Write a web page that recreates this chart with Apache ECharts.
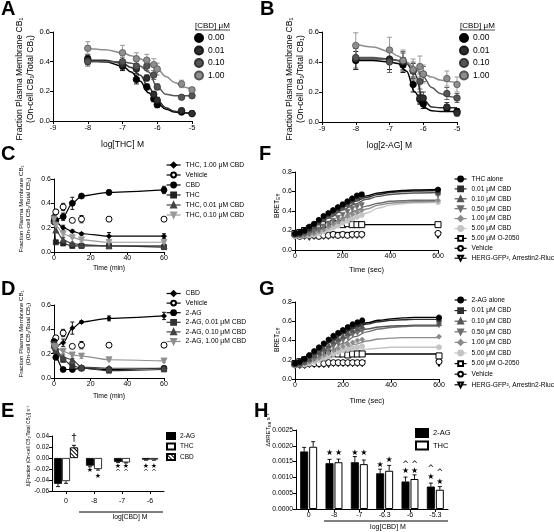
<!DOCTYPE html>
<html><head><meta charset="utf-8">
<script src="https://cdn.jsdelivr.net/npm/echarts@6/dist/echarts.min.js"></script>
<style>html,body{margin:0;padding:0;background:#fff}#c{width:554px;height:532px}</style>
</head><body><div id="c"></div>
<script>
// ================= DATA =================
// Panel A / B : dose-response (x = log concentration)
const doseX = [-8, -7, -6.6, -6.3, -6.1, -6, -5.3, -5];
const fitX = [-8, -7.5, -7, -6.75, -6.5, -6.25, -6, -5.75, -5.5, -5.25, -5];
const cbdLevels = ['0.00', '0.01', '0.10', '1.00'];

const A_cbd000 = [0.42, 0.37, 0.28, 0.23, 0.15, 0.11, 0.06, 0.05];
const A_cbd001 = [0.41, 0.38, 0.35, 0.29, 0.18, 0.14, 0.07, 0.05];
const A_cbd010 = [0.40, 0.40, 0.37, 0.37, 0.31, 0.23, 0.16, 0.17];
const A_cbd100 = [0.49, 0.46, 0.42, 0.41, 0.38, 0.35, 0.25, 0.21];
const A_err000 = [0.03, 0.03, 0.03, 0.02, 0.02, 0.02, 0.01, 0.01];
const A_err001 = [0.03, 0.03, 0.03, 0.02, 0.02, 0.02, 0.01, 0.01];
const A_err010 = [0.03, 0.03, 0.03, 0.03, 0.03, 0.02, 0.01, 0.01];
const A_err100 = [0.045, 0.05, 0.04, 0.04, 0.04, 0.04, 0.025, 0.015];
const A_fit000 = [0.41, 0.40, 0.37, 0.33, 0.27, 0.19, 0.12, 0.08, 0.06, 0.055, 0.05];
const A_fit001 = [0.41, 0.41, 0.39, 0.36, 0.31, 0.23, 0.14, 0.09, 0.065, 0.055, 0.05];
const A_fit010 = [0.40, 0.40, 0.40, 0.39, 0.37, 0.33, 0.23, 0.18, 0.17, 0.17, 0.17];
const A_fit100 = [0.49, 0.48, 0.46, 0.44, 0.42, 0.39, 0.35, 0.30, 0.26, 0.23, 0.21];

const B_cbd000 = [0.41, 0.41, 0.38, 0.25, 0.15, 0.12, 0.09, 0.07];
const B_cbd001 = [0.42, 0.42, 0.40, 0.34, 0.16, 0.16, 0.10, 0.06];
const B_cbd010 = [0.43, 0.40, 0.41, 0.34, 0.27, 0.32, 0.19, 0.16];
const B_cbd100 = [0.51, 0.48, 0.41, 0.35, 0.37, 0.32, 0.29, 0.25];
const B_err000 = [0.06, 0.06, 0.05, 0.05, 0.03, 0.03, 0.02, 0.02];
const B_err001 = [0.07, 0.07, 0.06, 0.05, 0.04, 0.04, 0.03, 0.02];
const B_err010 = [0.07, 0.07, 0.06, 0.06, 0.05, 0.05, 0.04, 0.03];
const B_err100 = [0.085, 0.085, 0.07, 0.07, 0.07, 0.06, 0.05, 0.05];
const B_fit000 = [0.41, 0.41, 0.40, 0.39, 0.34, 0.20, 0.10, 0.075, 0.07, 0.07, 0.07];
const B_fit001 = [0.42, 0.42, 0.42, 0.41, 0.39, 0.32, 0.15, 0.10, 0.095, 0.095, 0.095];
const B_fit010 = [0.43, 0.43, 0.42, 0.41, 0.39, 0.36, 0.30, 0.23, 0.19, 0.17, 0.16];
const B_fit100 = [0.52, 0.50, 0.47, 0.44, 0.40, 0.36, 0.32, 0.30, 0.28, 0.27, 0.26];

// Panel C / D : time course (min)
const timeMin = [0, 1, 5, 10, 15, 30, 60];
const C_thc_cbd100 = [0.27, 0.25, 0.20, 0.17, 0.15, 0.13, 0.13];
const C_vehicle    = [null, 0.33, 0.37, 0.26, 0.27, 0.27, 0.27];
const C_cbd        = [0.25, 0.26, 0.29, 0.40, 0.46, 0.49, 0.51];
const C_thc        = [0.28, 0.08, 0.07, 0.05, 0.05, 0.05, 0.04];
const C_thc_cbd001 = [0.26, 0.18, 0.10, 0.07, 0.06, 0.05, 0.05];
const C_thc_cbd010 = [0.27, 0.22, 0.15, 0.12, 0.10, 0.08, 0.08];
const C_err_thc_cbd100 = [0.02, 0.02, 0.02, 0.01, 0.01, 0.03, 0.02];
const C_err_vehicle    = [0, 0.02, 0.03, 0.01, 0.03, 0.015, 0.01];
const C_err_cbd        = [0.02, 0.02, 0.03, 0.05, 0.01, 0.02, 0.03];
const C_err_thc        = [0.03, 0.01, 0.01, 0.01, 0.01, 0.01, 0.01];
const C_err_thc_cbd001 = [0.03, 0.02, 0.02, 0.01, 0.01, 0.02, 0.01];
const C_err_thc_cbd010 = [0.03, 0.02, 0.02, 0.01, 0.01, 0.01, 0.01];

const D_cbd          = [0.25, 0.26, 0.29, 0.41, 0.46, 0.49, 0.51];
const D_vehicle      = [null, 0.33, 0.37, 0.26, 0.27, 0.27, 0.27];
const D_2ag          = [0.30, 0.17, 0.07, 0.07, 0.08, 0.07, 0.08];
const D_2ag_cbd001   = [0.28, 0.22, 0.15, 0.10, 0.08, 0.06, 0.07];
const D_2ag_cbd010   = [0.27, 0.23, 0.17, 0.15, 0.09, 0.08, 0.08];
const D_2ag_cbd100   = [0.26, 0.25, 0.22, 0.19, 0.18, 0.15, 0.14];
const D_err_cbd        = [0.02, 0.02, 0.03, 0.05, 0.01, 0.02, 0.03];
const D_err_vehicle    = [0, 0.02, 0.03, 0.01, 0.03, 0.015, 0.01];
const D_err_2ag        = [0.03, 0.02, 0.01, 0.01, 0.01, 0.01, 0.01];
const D_err_2ag_cbd001 = [0.03, 0.02, 0.02, 0.01, 0.01, 0.01, 0.01];
const D_err_2ag_cbd010 = [0.03, 0.02, 0.02, 0.01, 0.01, 0.01, 0.01];
const D_err_2ag_cbd100 = [0.03, 0.02, 0.02, 0.01, 0.02, 0.01, 0.01];

// Panel F / G : BRET time course (sec)
const timeSec = [0, 20, 40, 60, 80, 100, 120, 140, 160, 180, 200, 220, 240, 260, 280, 600];
const fitSec = [0, 50, 100, 150, 200, 250, 300, 350, 400, 450, 500, 600];
const F_thc_alone = [0.17,0.18,0.20,0.24,0.27,0.31,0.35,0.38,0.41,0.44,0.47,0.50,0.53,0.56,0.57,0.62];
const F_cbd001 = [0.16,0.17,0.19,0.22,0.26,0.30,0.34,0.37,0.40,0.43,0.46,0.49,0.52,0.55,0.57,0.61];
const F_cbd010 = [0.16,0.16,0.18,0.21,0.24,0.28,0.32,0.35,0.38,0.41,0.44,0.47,0.50,0.53,0.55,0.59];
const F_cbd050 = [0.15,0.15,0.16,0.17,0.19,0.21,0.24,0.27,0.30,0.33,0.36,0.39,0.42,0.44,0.46,0.56];
const F_cbd100 = [0.15,0.15,0.15,0.16,0.17,0.19,0.21,0.24,0.27,0.29,0.32,0.35,0.37,0.39,0.41,0.51];
const F_cbd500 = [0.14,0.14,0.15,0.15,0.16,0.17,0.19,0.21,0.23,0.25,0.28,0.30,0.32,0.34,0.36,0.49];
const F_o2050  = [0.17,0.18,0.20,0.22,0.24,0.25,0.26,0.26,0.27,0.27,0.26,0.27,0.26,0.26,0.26,0.26];
const F_vehicle = [0.15,0.14,0.15,0.15,0.15,0.14,0.15,0.15,0.16,0.15,0.16,0.15,0.16,0.16,0.16,0.17];
const F_herg   = [0.14,0.14,0.14,0.13,0.14,0.14,0.14,0.14,0.15,0.15,0.15,0.15,0.15,0.15,0.15,0.15];
const F_fit_alone = [0.17,0.22,0.30,0.38,0.45,0.51,0.555,0.585,0.60,0.61,0.615,0.62];
const F_fit_001 = [0.16,0.21,0.29,0.37,0.44,0.50,0.54,0.57,0.59,0.60,0.605,0.61];
const F_fit_010 = [0.16,0.19,0.26,0.34,0.41,0.47,0.52,0.55,0.57,0.58,0.585,0.59];
const F_fit_050 = [0.15,0.16,0.20,0.26,0.33,0.40,0.45,0.48,0.50,0.505,0.51,0.51];
const F_fit_100 = [0.15,0.15,0.18,0.23,0.29,0.36,0.42,0.46,0.48,0.49,0.495,0.50];
const F_fit_500 = [0.14,0.15,0.17,0.21,0.26,0.32,0.38,0.43,0.46,0.475,0.485,0.49];
const F_fit_o2050 = [0.17,0.21,0.25,0.26,0.26,0.26,0.26,0.26,0.26,0.26,0.26,0.26];

const G_2ag_alone = [0.16,0.18,0.21,0.25,0.29,0.33,0.37,0.41,0.45,0.48,0.51,0.54,0.57,0.59,0.61,0.64];
const G_cbd001 = [0.16,0.17,0.20,0.24,0.28,0.32,0.36,0.40,0.43,0.47,0.50,0.53,0.55,0.57,0.59,0.62];
const G_cbd010 = [0.15,0.16,0.18,0.21,0.25,0.28,0.32,0.35,0.39,0.42,0.45,0.48,0.51,0.53,0.55,0.58];
const G_cbd050 = [0.15,0.15,0.17,0.19,0.22,0.25,0.28,0.31,0.34,0.37,0.40,0.43,0.46,0.48,0.50,0.56];
const G_cbd100 = [0.15,0.15,0.16,0.18,0.20,0.22,0.25,0.27,0.30,0.32,0.34,0.36,0.38,0.40,0.41,0.44];
const G_cbd500 = [0.14,0.15,0.15,0.16,0.18,0.20,0.22,0.24,0.26,0.28,0.30,0.31,0.32,0.33,0.34,0.33];
const G_o2050  = [0.16,0.18,0.20,0.22,0.24,0.25,0.26,0.26,0.27,0.26,0.26,0.25,0.26,0.26,0.26,0.24];
const G_vehicle = [0.15,0.15,0.15,0.16,0.16,0.16,0.16,0.17,0.17,0.17,0.17,0.17,0.17,0.17,0.17,0.18];
const G_herg   = [0.14,0.14,0.14,0.15,0.15,0.15,0.15,0.15,0.16,0.16,0.16,0.16,0.16,0.16,0.16,0.16];
const G_fit_alone = [0.16,0.22,0.31,0.40,0.48,0.545,0.585,0.61,0.625,0.635,0.64,0.64];
const G_fit_001 = [0.16,0.21,0.30,0.39,0.47,0.53,0.57,0.595,0.61,0.615,0.62,0.62];
const G_fit_010 = [0.15,0.19,0.26,0.34,0.42,0.48,0.52,0.54,0.55,0.555,0.56,0.56];
const G_fit_050 = [0.15,0.17,0.22,0.29,0.37,0.44,0.49,0.52,0.535,0.545,0.55,0.55];
const G_fit_100 = [0.15,0.16,0.20,0.25,0.31,0.36,0.395,0.415,0.425,0.43,0.43,0.43];
const G_fit_500 = [0.14,0.15,0.18,0.22,0.26,0.29,0.31,0.32,0.33,0.33,0.33,0.33];
const G_fit_o2050 = [0.16,0.20,0.24,0.26,0.26,0.26,0.26,0.26,0.26,0.26,0.26,0.26];

// Panel E : bars
const E_cats = ['0', '-8', '-7', '-6'];
const E_2ag = [-0.047, -0.014, -0.007, -0.003];
const E_2ag_err = [0.005, 0.002, 0.001, 0.001];
const E_thc = [-0.042, -0.020, -0.008, -0.003];
const E_thc_err = [0.004, 0.002, 0.001, 0.001];
const E_cbd = [0.019, null, null, null];
const E_cbd_err = [0.004, 0, 0, 0];
const E_marks_2ag = [[1, -0.022, '★'], [2, -0.0145, '★'], [2, -0.025, '^'], [3, -0.0145, '★'], [3, -0.025, '^']];
const E_marks_thc = [[1, -0.033, '★'], [2, -0.0145, '★'], [2, -0.025, '^'], [3, -0.0145, '★'], [3, -0.025, '^']];
const E_marks_cbd = [[0, 0.035, '†']];

// Panel H : bars
const H_cats = ['0', '-8', '-7', '-6.3', '-6', '-5.3'];
const H_2ag = [0.00182, 0.00145, 0.00148, 0.00113, 0.00087, 0.00071];
const H_2ag_err = [0.00013, 0.00012, 0.00018, 0.00013, 0.00014, 0.00011];
const H_thc = [0.00197, 0.00148, 0.00142, 0.00121, 0.00095, 0.00061];
const H_thc_err = [0.00016, 0.00010, 0.00013, 0.00017, 0.00013, 0.00010];
const H_marks_2ag = [[1, 0.00178, '★'], [2, 0.00178, '★'], [3, 0.00139, '★'], [4, 0.00121, '★'], [4, 0.00139, '^'], [5, 0.00102, '★'], [5, 0.00126, '^']];
const H_marks_thc = [[1, 0.00178, '★'], [2, 0.00178, '★'], [3, 0.00155, '★'], [4, 0.00121, '★'], [4, 0.00139, '^'], [5, 0.00086, '★'], [5, 0.00115, '^']];

// ================= BUILD =================
const FONT = '"Liberation Sans", Arial, sans-serif';
const chart = echarts.init(document.getElementById('c'), null, { renderer: 'canvas', width: 554, height: 532 });

const grids = [
  { left: 53, top: 32, width: 139, height: 89 },   // A
  { left: 322, top: 32, width: 135, height: 90 },  // B
  { left: 54, top: 179, width: 110, height: 73 },  // C
  { left: 54, top: 305, width: 110, height: 73 },  // D
  { left: 52, top: 436, width: 112, height: 55 },  // E
  { left: 295, top: 172, width: 143, height: 78 }, // F
  { left: 295, top: 302, width: 144, height: 77 }, // G
  { left: 296, top: 430, width: 152, height: 79 }  // H
].map(g => Object.assign({ outerBoundsMode: 'none', containLabel: false }, g));

function axis(type, gi, o) {
  return {
    type, gridIndex: gi, min: o.min, max: o.max, interval: o.interval, data: o.data,
    show: o.show !== false,
    name: o.name || '', nameLocation: 'middle', nameGap: o.nameGap || 14, nameMoveOverlap: false,
    nameTextStyle: { color: '#000', fontFamily: FONT, fontSize: o.nameSize || 8 },
    axisLine: { show: true, onZero: false, lineStyle: { color: '#000', width: 1 } },
    axisTick: { show: true, length: 3, alignWithLabel: true, lineStyle: { color: '#000', width: 1 } },
    splitLine: { show: false },
    axisLabel: { color: '#000', fontFamily: FONT, fontSize: o.labelSize || 8, margin: o.margin || 3, formatter: o.fmt, hideOverlap: false },
    boundaryGap: type === 'category' ? true : undefined
  };
}
const f1 = v => v.toFixed(1), f2 = v => v.toFixed(2), f4 = v => v.toFixed(4);

const xAxes = [
  axis('value', 0, { min: -9, max: -5, interval: 1, name: 'log[THC] M', nameGap: 19, nameSize: 8.5, labelSize: 7.5 }),
  axis('value', 1, { min: -9, max: -5, interval: 1, name: 'log[2-AG] M', nameGap: 19, nameSize: 8.5, labelSize: 7.5 }),
  axis('value', 2, { min: 0, max: 60, interval: 20, name: 'Time (min)', nameGap: 13, nameSize: 6.8, labelSize: 7 }),
  axis('value', 3, { min: 0, max: 60, interval: 20, name: 'Time (min)', nameGap: 15, nameSize: 6.8, labelSize: 7 }),
  axis('category', 4, { data: E_cats, labelSize: 7, margin: 7 }),
  Object.assign(axis('category', 4, { data: E_cats }), { show: false }),
  axis('value', 5, { min: 0, max: 600, interval: 200, name: 'Time (sec)', nameGap: 16, nameSize: 7.5, labelSize: 7 }),
  axis('value', 6, { min: 0, max: 600, interval: 200, name: 'Time (sec)', nameGap: 18, nameSize: 7.5, labelSize: 7 }),
  axis('category', 7, { data: H_cats, labelSize: 7 })
];
const yAxes = [
  axis('value', 0, { min: 0, max: 0.6, interval: 0.2, fmt: f1, labelSize: 7.5 }),
  axis('value', 1, { min: 0, max: 0.6, interval: 0.2, fmt: f1, labelSize: 7.5 }),
  axis('value', 2, { min: 0, max: 0.6, interval: 0.2, fmt: f1, labelSize: 7 }),
  axis('value', 3, { min: 0, max: 0.6, interval: 0.2, fmt: f1, labelSize: 7 }),
  axis('value', 4, { min: -0.06, max: 0.04, interval: 0.02, fmt: f2, labelSize: 6.5 }),
  axis('value', 5, { min: 0, max: 0.8, interval: 0.2, fmt: f1, labelSize: 7 }),
  axis('value', 6, { min: 0, max: 0.8, interval: 0.2, fmt: f1, labelSize: 7 }),
  axis('value', 7, { min: 0, max: 0.0025, interval: 0.0005, fmt: f4, labelSize: 6.8 })
];

const series = [];

function errSeries(xi, yi, xs, ys, es, color, cap, dx, mode) {
  const data = [];
  xs.forEach((x, i) => { if (ys[i] != null && es[i]) data.push([x, ys[i], es[i]]); });
  return {
    type: 'custom', xAxisIndex: xi, yAxisIndex: yi, data, silent: true, z: 2, encode: { x: 0, y: 1 },
    renderItem(p, api) {
      const x = api.value(0), y = api.value(1), e = api.value(2);
      let y1, y2;
      if (mode === 'away') { y1 = y; y2 = y + (y >= 0 ? e : -e); } else { y1 = y - e; y2 = y + e; }
      const a = api.coord([x, y1]), b = api.coord([x, y2]);
      const X = a[0] + dx;
      const st = { stroke: color, lineWidth: 0.9 };
      const ch = [
        { type: 'line', shape: { x1: X, y1: a[1], x2: X, y2: b[1] }, style: st },
        { type: 'line', shape: { x1: X - cap, y1: b[1], x2: X + cap, y2: b[1] }, style: st }
      ];
      if (mode !== 'away') ch.push({ type: 'line', shape: { x1: X - cap, y1: a[1], x2: X + cap, y2: a[1] }, style: st });
      return { type: 'group', children: ch };
    }
  };
}
function markSeries(xi, yi, data, dx, fs) {
  return {
    type: 'custom', xAxisIndex: xi, yAxisIndex: yi, data: data.map(d => [d[0], d[1]]), silent: true, z: 5, encode: { x: 0, y: 1 },
    renderItem(p, api) {
      const c = api.coord([api.value(0), api.value(1)]);
      return { type: 'text', x: c[0] + dx, y: c[1], style: { text: data[p.dataIndex][2], fill: '#000',
        font: fs + 'px "DejaVu Sans", sans-serif', align: 'center', verticalAlign: 'middle' } };
    }
  };
}
function ptsLine(name, xi, yi, xs, ys, st) {
  return {
    type: 'line', name, xAxisIndex: xi, yAxisIndex: yi,
    data: xs.map((x, i) => [x, ys[i]]).filter(d => d[1] != null),
    symbol: st.symbol, symbolSize: st.size || 5, symbolRotate: st.rot || 0, showSymbol: true,
    smooth: st.smooth == null ? 0.3 : st.smooth, smoothMonotone: 'x',
    itemStyle: { color: st.fill, borderColor: st.border || st.fill, borderWidth: st.bw == null ? 0.8 : st.bw },
    lineStyle: { color: st.color, width: st.lw == null ? 1.2 : st.lw },
    z: st.z || 3, emphasis: { disabled: true }
  };
}
function curve(xi, yi, xs, ys, color, lw, z) {
  return {
    type: 'line', xAxisIndex: xi, yAxisIndex: yi, data: xs.map((x, i) => [x, ys[i]]),
    symbol: 'none', showSymbol: false, smooth: 0.4, smoothMonotone: 'x',
    lineStyle: { color, width: lw || 1.4 }, itemStyle: { color }, z: z || 2, emphasis: { disabled: true }, silent: true
  };
}

// ---- A & B ----
const cbdCols = ['#000000', '#2e2e2e', '#555555', '#8e8e8e'];
const cbdBorder = ['#000000', '#1a1a1a', '#333333', '#555555'];
const A_pts = [A_cbd000, A_cbd001, A_cbd010, A_cbd100], A_errs = [A_err000, A_err001, A_err010, A_err100];
const A_fits = [A_fit000, A_fit001, A_fit010, A_fit100];
const B_pts = [B_cbd000, B_cbd001, B_cbd010, B_cbd100], B_errs = [B_err000, B_err001, B_err010, B_err100];
const B_fits = [B_fit000, B_fit001, B_fit010, B_fit100];
[[0, 'A', A_pts, A_errs, A_fits], [1, 'B', B_pts, B_errs, B_fits]].forEach(([ax, tag, P, E, F]) => {
  for (let k = 0; k < 4; k++) {
    series.push(curve(ax, ax, fitX, F[k], cbdCols[k], 1.5, 2));
    series.push(errSeries(ax, ax, doseX, P[k], E[k], cbdCols[k] === '#000000' ? '#000' : cbdCols[k], 2.5, 0, 'both'));
  }
  for (let k = 0; k < 4; k++) {
    series.push({
      type: 'scatter', name: cbdLevels[k] + '|' + tag, xAxisIndex: ax, yAxisIndex: ax,
      data: doseX.map((x, i) => [x, P[k][i]]), symbol: 'circle', symbolSize: 6.5, z: 3 + k,
      itemStyle: { color: cbdCols[k], borderColor: cbdBorder[k], borderWidth: 0.8, opacity: 1 }, emphasis: { disabled: true }
    });
  }
});

// ---- C ----
const C_defs = [
  ['THC, 1.00 μM CBD|C', C_thc_cbd100, C_err_thc_cbd100, { symbol: 'diamond', size: 5, fill: '#000', color: '#000' }],
  ['Vehicle|C', C_vehicle, C_err_vehicle, { symbol: 'circle', size: 6, fill: '#fff', border: '#000', bw: 1, color: '#000', lw: 0 }],
  ['CBD|C', C_cbd, C_err_cbd, { symbol: 'circle', size: 6, fill: '#000', color: '#000' }],
  ['THC|C', C_thc, C_err_thc, { symbol: 'rect', size: 5, fill: '#222', color: '#222' }],
  ['THC, 0.01 μM CBD|C', C_thc_cbd001, C_err_thc_cbd001, { symbol: 'triangle', size: 6, fill: '#444', color: '#444' }],
  ['THC, 0.10 μM CBD|C', C_thc_cbd010, C_err_thc_cbd010, { symbol: 'triangle', rot: 180, size: 6, fill: '#9a9a9a', color: '#9a9a9a' }]
];
C_defs.forEach(([n, ys, es, st]) => {
  series.push(errSeries(2, 2, timeMin, ys, es, st.border || st.color, 2, 0, 'both'));
  series.push(ptsLine(n, 2, 2, timeMin, ys, st));
});
// ---- D ----
const D_defs = [
  ['CBD|D', D_cbd, D_err_cbd, { symbol: 'diamond', size: 5, fill: '#000', color: '#000' }],
  ['Vehicle|D', D_vehicle, D_err_vehicle, { symbol: 'circle', size: 6, fill: '#fff', border: '#000', bw: 1, color: '#000', lw: 0 }],
  ['2-AG|D', D_2ag, D_err_2ag, { symbol: 'circle', size: 6, fill: '#000', color: '#000' }],
  ['2-AG, 0.01 μM CBD|D', D_2ag_cbd001, D_err_2ag_cbd001, { symbol: 'rect', size: 5, fill: '#333', color: '#333' }],
  ['2-AG, 0.10 μM CBD|D', D_2ag_cbd010, D_err_2ag_cbd010, { symbol: 'triangle', size: 6, fill: '#444', color: '#444' }],
  ['2-AG, 1.00 μM CBD|D', D_2ag_cbd100, D_err_2ag_cbd100, { symbol: 'triangle', rot: 180, size: 6, fill: '#8e8e8e', color: '#8e8e8e' }]
];
D_defs.forEach(([n, ys, es, st]) => {
  series.push(errSeries(3, 3, timeMin, ys, es, st.border || st.color, 2, 0, 'both'));
  series.push(ptsLine(n, 3, 3, timeMin, ys, st));
});

// ---- F & G ----
const bretStyles = [
  { symbol: 'circle', size: 5, fill: '#000', color: '#000' },
  { symbol: 'rect', size: 4.5, fill: '#2e2e2e', color: '#2e2e2e' },
  { symbol: 'triangle', size: 5, fill: '#555', color: '#555' },
  { symbol: 'triangle', rot: 180, size: 5, fill: '#6e6e6e', color: '#6e6e6e' },
  { symbol: 'diamond', size: 5, fill: '#8c8c8c', color: '#8c8c8c' },
  { symbol: 'circle', size: 5, fill: '#c4c4c4', color: '#c4c4c4' },
  { symbol: 'rect', size: 6, fill: '#fff', border: '#000', bw: 1, color: '#000' },
  { symbol: 'circle', size: 6, fill: '#fff', border: '#000', bw: 1, color: '#000' },
  { symbol: 'triangle', rot: 180, size: 6, fill: '#fff', border: '#000', bw: 1, color: '#000' }
];
const F_names = ['THC alone', '0.01 μM CBD', '0.10 μM CBD', '0.50 μM CBD', '1.00 μM CBD', '5.00 μM CBD', '5.00 μM O-2050', 'Vehicle', 'HERG-GFP², Arrestin2-Rluc'];
const G_names = ['2-AG alone', '0.01 μM CBD', '0.10 μM CBD', '0.50 μM CBD', '1.00 μM CBD', '5.00 μM CBD', '5.00 μM O-2050', 'Vehicle', 'HERG-GFP², Arrestin2-Rluc'];
const F_pts = [F_thc_alone, F_cbd001, F_cbd010, F_cbd050, F_cbd100, F_cbd500, F_o2050, F_vehicle, F_herg];
const G_pts = [G_2ag_alone, G_cbd001, G_cbd010, G_cbd050, G_cbd100, G_cbd500, G_o2050, G_vehicle, G_herg];
const F_fits = [F_fit_alone, F_fit_001, F_fit_010, F_fit_050, F_fit_100, F_fit_500, F_fit_o2050];
const G_fits = [G_fit_alone, G_fit_001, G_fit_010, G_fit_050, G_fit_100, G_fit_500, G_fit_o2050];
[[6, 5, 'F', F_names, F_pts, F_fits], [7, 6, 'G', G_names, G_pts, G_fits]].forEach(([xi, yi, tag, N, P, FT]) => {
  for (let k = FT.length - 1; k >= 0; k--) series.push(curve(xi, yi, fitSec, FT[k], bretStyles[k].color, 1.4, 2));
  for (let k = N.length - 1; k >= 0; k--) {
    const st = Object.assign({}, bretStyles[k], { lw: 0, smooth: 0, z: 3 });
    series.push(ptsLine(N[k] + '|' + tag, xi, yi, timeSec, P[k], st));
  }
});

// ---- E ----
series.push({ type: 'bar', name: '2-AG|E', xAxisIndex: 4, yAxisIndex: 4, barWidth: 8, barGap: '0%',
  data: E_2ag.map((v, i) => i === 0 ? null : v), itemStyle: { color: '#000', borderColor: '#000', borderWidth: 0.8 } });
series.push({ type: 'bar', name: 'THC|E', xAxisIndex: 4, yAxisIndex: 4, barWidth: 8, barGap: '0%',
  data: E_thc.map((v, i) => i === 0 ? null : v), itemStyle: { color: '#fff', borderColor: '#000', borderWidth: 0.8 } });
series.push({ type: 'bar', name: '2-AG|E0', xAxisIndex: 5, yAxisIndex: 4, barWidth: 8, barGap: '0%',
  data: E_2ag.map((v, i) => i === 0 ? v : null), itemStyle: { color: '#000', borderColor: '#000', borderWidth: 0.8 } });
series.push({ type: 'bar', name: 'THC|E0', xAxisIndex: 5, yAxisIndex: 4, barWidth: 8, barGap: '0%',
  data: E_thc.map((v, i) => i === 0 ? v : null), itemStyle: { color: '#fff', borderColor: '#000', borderWidth: 0.8 } });
series.push({ type: 'bar', name: 'CBD|E', xAxisIndex: 5, yAxisIndex: 4, barWidth: 8, barGap: '0%',
  data: E_cbd, itemStyle: { color: '#fff', borderColor: '#000', borderWidth: 0.8,
    decal: { symbol: 'rect', symbolSize: 1, color: '#000', backgroundColor: '#fff', dashArrayX: [1, 0], dashArrayY: [1, 2], rotation: Math.PI / 4 } } });
series.push(errSeries(4, 4, [1, 2, 3], E_2ag.slice(1), E_2ag_err.slice(1), '#000', 2, -4, 'away'));
series.push(errSeries(4, 4, [1, 2, 3], E_thc.slice(1), E_thc_err.slice(1), '#000', 2, 4, 'away'));
series.push(errSeries(5, 4, [0], [E_2ag[0]], [E_2ag_err[0]], '#000', 2, -8, 'away'));
series.push(errSeries(5, 4, [0], [E_thc[0]], [E_thc_err[0]], '#000', 2, 0, 'away'));
series.push(errSeries(5, 4, [0], [E_cbd[0]], [E_cbd_err[0]], '#000', 2, 8, 'away'));
series.push(markSeries(4, 4, E_marks_2ag, -4, 7));
series.push(markSeries(4, 4, E_marks_thc, 4, 7));
series.push(markSeries(5, 4, E_marks_cbd, 8, 10));

// ---- H ----
series.push({ type: 'bar', name: '2-AG|H', xAxisIndex: 8, yAxisIndex: 7, barWidth: 8, barGap: '12%',
  data: H_2ag, itemStyle: { color: '#000', borderColor: '#000', borderWidth: 0.8 } });
series.push({ type: 'bar', name: 'THC|H', xAxisIndex: 8, yAxisIndex: 7, barWidth: 8, barGap: '12%',
  data: H_thc, itemStyle: { color: '#fff', borderColor: '#000', borderWidth: 1 } });
const H_idx = H_cats.map((c, i) => i);
series.push(errSeries(8, 7, H_idx, H_2ag, H_2ag_err, '#000', 2, -4.5, 'away'));
series.push(errSeries(8, 7, H_idx, H_thc, H_thc_err, '#000', 2, 4.5, 'away'));
series.push(markSeries(8, 7, H_marks_2ag, -4.5, 8));
series.push(markSeries(8, 7, H_marks_thc, 4.5, 8));

// ---- legends ----
const nameFmt = n => n.split('|')[0];
function legend(names, left, top, o) {
  return Object.assign({
    data: names, left, top, orient: 'vertical', padding: 0, itemGap: 2, itemWidth: 14, itemHeight: 7,
    selectedMode: false, formatter: nameFmt,
    textStyle: { fontSize: 8, color: '#000', fontFamily: FONT }
  }, o);
}
const ts = fs => ({ fontSize: fs, color: '#000', fontFamily: FONT });
const legends = [
  legend(cbdLevels.map(l => l + '|A'), 194, 33, { itemWidth: 8, itemHeight: 8, itemGap: 2.5, icon: 'circle', textStyle: ts(8.5) }),
  legend(cbdLevels.map(l => l + '|B'), 459, 33, { itemWidth: 8, itemHeight: 8, itemGap: 2.5, icon: 'circle', textStyle: ts(8.5) }),
  legend(C_defs.map(d => d[0]), 166, 161.5, { itemHeight: 6, itemGap: 3, lineStyle: { width: 1.2 }, textStyle: ts(6.8) }),
  legend(D_defs.map(d => d[0]), 166, 290, { itemHeight: 6, itemGap: 2.6, lineStyle: { width: 1.2 }, textStyle: ts(6.8) }),
  legend(F_names.map(n => n + '|F'), 454, 175.5, { itemWidth: 12, itemHeight: 6, itemGap: 2.9, lineStyle: { width: 1.2 }, textStyle: ts(6.6) }),
  legend(G_names.map(n => n + '|G'), 454, 296.5, { itemWidth: 12, itemHeight: 6, itemGap: 3.6, lineStyle: { width: 1.2 }, textStyle: ts(6.6) }),
  legend(['2-AG|E', 'THC|E', 'CBD|E'], 166, 432, { itemWidth: 8, itemHeight: 6, itemGap: 2.5, icon: 'rect', textStyle: ts(6.5) }),
  legend(['2-AG|H', 'THC|H'], 415, 428, { itemWidth: 12, itemHeight: 8, itemGap: 2.5, icon: 'rect', textStyle: ts(7.5) })
];

// ---- graphic annotations (panel letters, axis titles, headers, brackets) ----
function letter(t, x, y) { return { type: 'text', x, y, style: { text: t, font: 'bold 20px ' + FONT, fill: '#000', verticalAlign: 'top' } }; }
function txt(t, x, y, fs, align) { return { type: 'text', x, y, style: { text: t, font: fs + 'px ' + FONT, fill: '#000', align: align || 'left', verticalAlign: 'middle' } }; }
function hline(x1, x2, y, w) { return { type: 'line', shape: { x1, y1: y, x2, y2: y }, style: { stroke: '#000', lineWidth: w || 1 } }; }
function vtitle(t, x, y, fs, lh) {
  return { type: 'text', x, y, rotation: Math.PI / 2, style: { text: t, fontSize: fs, fontFamily: FONT, fill: '#000',
    align: 'center', verticalAlign: 'middle', lineHeight: lh || fs * 1.15,
    rich: { s: { fontSize: Math.round(fs * 0.72), fontFamily: FONT, fill: '#000', verticalAlign: 'bottom', lineHeight: lh || fs * 1.15 } } } };
}
const fracTitle = 'Fraction Plasma Membrane CB₁\n(On-cell CB₁/Total CB₁)';
const graphics = [
  letter('A', 1, -1), letter('B', 260, -1), letter('C', 1, 144), letter('F', 259, 144),
  letter('D', 1, 279), letter('G', 259, 279), letter('E', 1, 401), letter('H', 254, 401),
  vtitle(fracTitle, 25, 79, 8.6, 10.5), vtitle(fracTitle, 295, 79, 8.6, 10.5),
  vtitle(fracTitle, 24.5, 209, 6.1, 7.2), vtitle(fracTitle, 24.5, 334, 6.1, 7.2),
  vtitle('Δ[Fraction (On-cell CB₁/Total CB₁)] s⁻¹', 29, 446, 4.8),
  vtitle('BRET{s|Eff}', 277, 206, 6.8), vtitle('BRET{s|Eff}', 277, 340, 6.8),
  vtitle('ΔBRET{s|Eff} s⁻¹', 268, 430, 6),
  txt('[CBD] μM', 195, 25.5, 8), hline(195, 230, 30, 0.7),
  txt('[CBD] μM', 460, 25.5, 8), hline(460, 495, 30, 0.7),
  hline(79, 163, 512, 1), txt('log[CBD] M', 130, 517.5, 6.8, 'center'),
  hline(324, 448, 521, 1), txt('log[CBD] M', 388, 527, 7, 'center')
];

chart.setOption({
  animation: false,
  backgroundColor: '#fff',
  textStyle: { fontFamily: FONT },
  grid: grids, xAxis: xAxes, yAxis: yAxes, series, legend: legends, graphic: graphics
});
</script></body></html>
